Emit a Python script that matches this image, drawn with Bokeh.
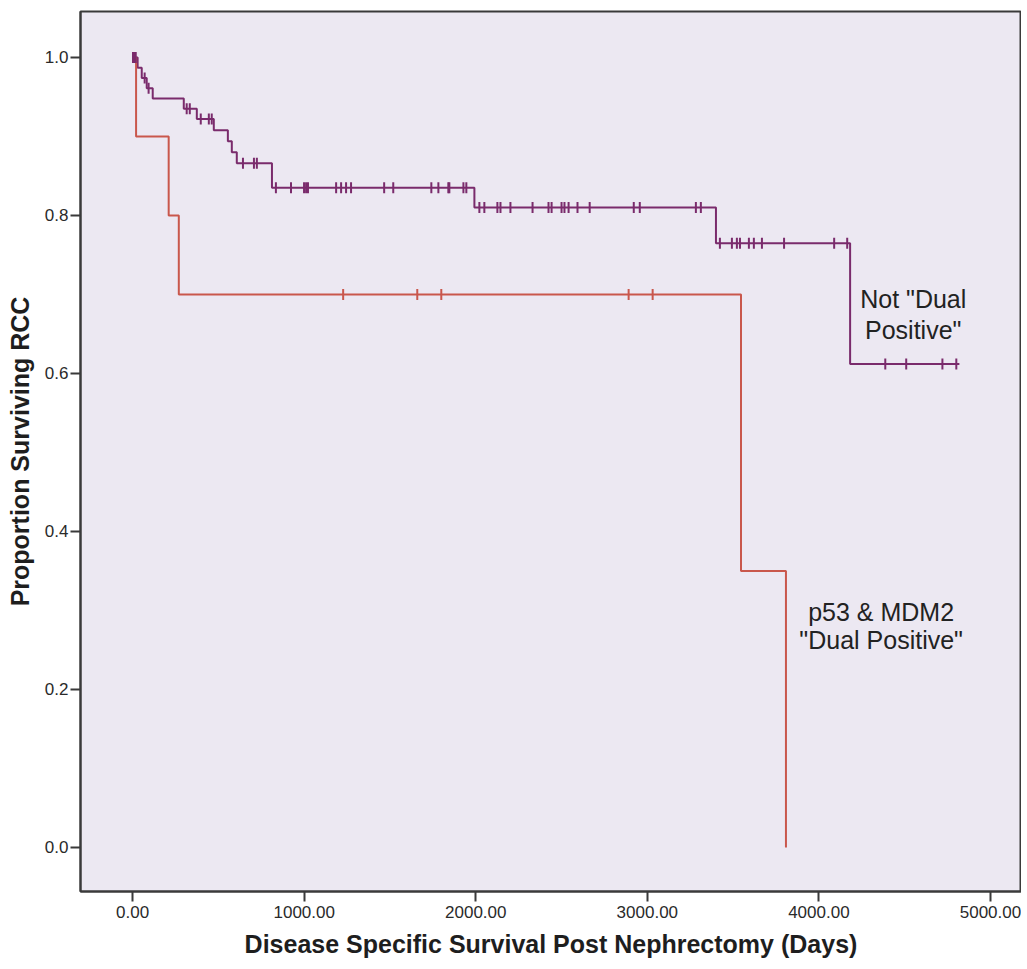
import numpy as np
from bokeh.plotting import figure
from bokeh.models import Range1d, PrintfTickFormatter, FixedTicker, Label
from bokeh.embed import file_html
from bokeh.resources import INLINE

# ---- data ----
# Not "Dual Positive" group: Kaplan-Meier step curve
other_step_days = [0, 29, 53, 82, 117, 298, 374, 473, 555, 578, 607, 812, 1992, 3400, 4182]
other_step_surv = [1.0, 0.987, 0.974, 0.961, 0.948, 0.935, 0.922, 0.908, 0.894, 0.880, 0.866, 0.835, 0.810, 0.765, 0.612]
other_last_day = 4819
other_censor_days = [2, 10, 18, 70, 93, 315, 333, 397, 444, 461, 643, 707, 724,
                     835, 923, 999, 1011, 1022, 1186, 1215, 1244, 1273, 1466, 1519,
                     1741, 1782, 1840, 1846, 1928, 1945,
                     2021, 2050, 2126, 2144, 2202, 2331, 2424, 2442, 2500, 2517,
                     2541, 2593, 2664, 2921, 2956, 3283, 3312,
                     3423, 3493, 3522, 3540, 3592, 3621, 3668, 3797, 4089, 4165,
                     4387, 4509, 4720, 4801]

# p53 & MDM2 "Dual Positive" group
dual_step_days = [0, 20, 210, 269, 3546, 3808]
dual_step_surv = [1.0, 0.9, 0.8, 0.7, 0.35, 0.0]
dual_censor_days = [1227, 1659, 1799, 2891, 3031]

x_ticks = [0, 1000, 2000, 3000, 4000, 5000]
y_ticks = [0.0, 0.2, 0.4, 0.6, 0.8, 1.0]

x_label = "Disease Specific Survival Post Nephrectomy (Days)"
y_label = "Proportion Surviving RCC"
other_text = 'Not "Dual\nPositive"'
dual_text = 'p53 & MDM2\n"Dual Positive"'

PURPLE = "#7a2b6c"
RED = "#c9574c"
FONT = "Liberation Sans"


def surv_at(days, step_days, step_surv):
    idx = np.searchsorted(step_days, days, side="right") - 1
    return [step_surv[i] for i in idx]


p = figure(width=1021, height=961, output_backend="svg", toolbar_location=None,
           x_range=Range1d(-304, 5181), y_range=Range1d(-0.0557, 1.0582),
           min_border_left=80, min_border_right=0, min_border_top=11, min_border_bottom=70)

p.background_fill_color = "#ece8f2"
p.border_fill_color = "white"
p.outline_line_color = "#3a3a3a"
p.outline_line_width = 2
p.xgrid.visible = False
p.ygrid.visible = False

# curves
p.step(other_step_days + [other_last_day], other_step_surv + [other_step_surv[-1]],
       mode="after", line_color=PURPLE, line_width=2)
p.step(dual_step_days, dual_step_surv, mode="after", line_color=RED, line_width=2)

# censor marks
p.scatter(other_censor_days, surv_at(other_censor_days, other_step_days, other_step_surv),
          marker="dash", angle=np.pi / 2, size=11, line_color=PURPLE, line_width=2)
p.scatter(dual_censor_days, surv_at(dual_censor_days, dual_step_days, dual_step_surv),
          marker="dash", angle=np.pi / 2, size=11, line_color=RED, line_width=2)

# axes
for ax in (p.xaxis[0], p.yaxis[0]):
    ax.axis_line_color = "#3a3a3a"
    ax.axis_line_width = 2
    ax.major_tick_line_color = "#3a3a3a"
    ax.major_tick_line_width = 2
    ax.major_tick_in = 0
    ax.major_tick_out = 10
    ax.minor_tick_line_color = None
    ax.major_label_text_font = FONT
    ax.major_label_text_font_size = "17px"
    ax.major_label_text_color = "#2a2a2a"
    ax.axis_label_text_font = FONT
    ax.axis_label_text_font_size = "25px"
    ax.axis_label_text_font_style = "bold"
    ax.axis_label_text_color = "#1e1e1e"

p.xaxis.ticker = FixedTicker(ticks=x_ticks)
p.yaxis.ticker = FixedTicker(ticks=y_ticks)
p.xaxis.formatter = PrintfTickFormatter(format="%.2f")
p.yaxis.formatter = PrintfTickFormatter(format="%.1f")
p.xaxis.axis_label = x_label
p.yaxis.axis_label = y_label
p.xaxis.major_label_standoff = 4
p.yaxis.major_label_standoff = 2
p.xaxis.axis_label_standoff = 9
p.yaxis.axis_label_standoff = 8

# curve labels
p.add_layout(Label(x=4550, y=0.675, text=other_text, text_font=FONT, text_font_size="25px",
                   text_color="#222222", text_align="center", text_baseline="middle",
                   text_line_height=1.1))
p.add_layout(Label(x=4363, y=0.28, text=dual_text, text_font=FONT, text_font_size="25px",
                   text_color="#222222", text_align="center", text_baseline="middle",
                   text_line_height=1.0))

open("out.html", "w").write(file_html(p, INLINE))
